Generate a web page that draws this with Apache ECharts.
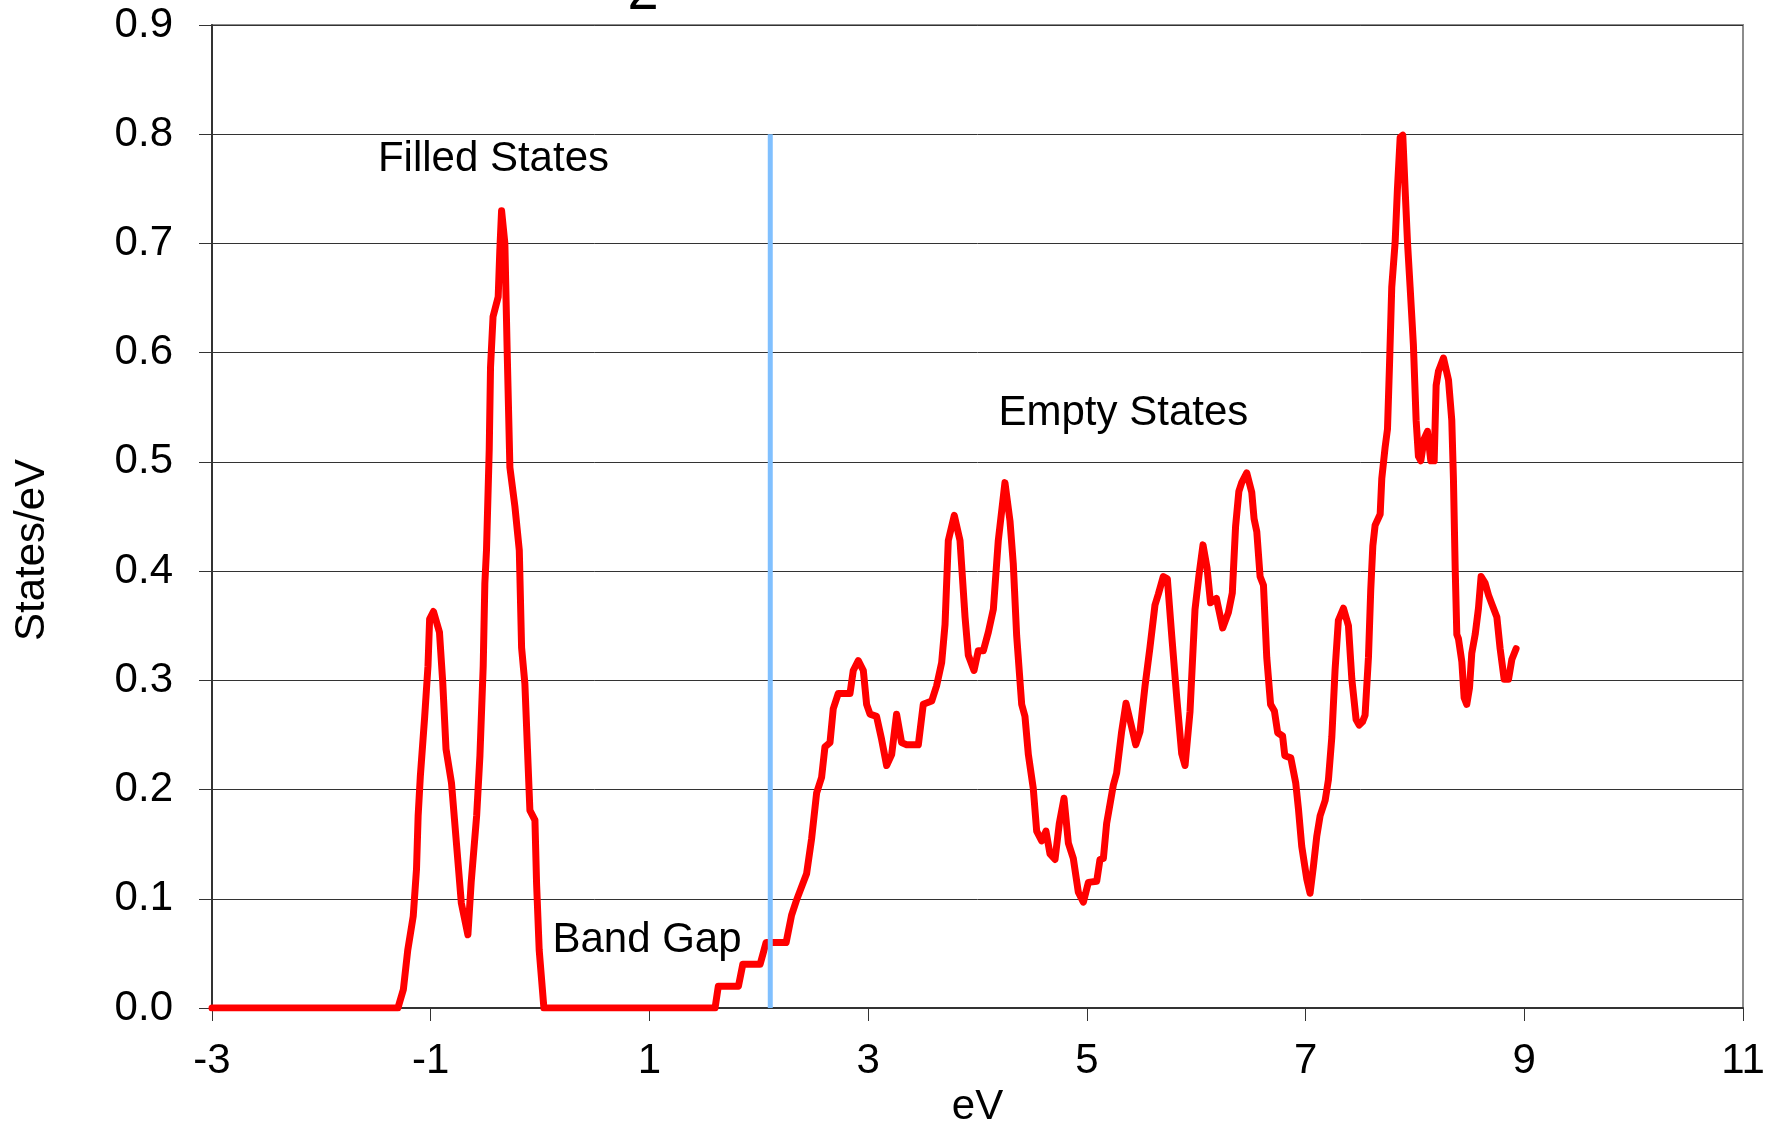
<!DOCTYPE html>
<html>
<head>
<meta charset="utf-8">
<script src="https://cdn.jsdelivr.net/npm/echarts@6/dist/echarts.min.js"></script>
<style>
  html, body { margin: 0; padding: 0; background: #ffffff; }
  #chart { width: 1779px; height: 1121px; }
</style>
</head>
<body>
<div id="chart"></div>
<script>
// Density of states: energy (eV) and states per eV
const energy = [
  -3.0, -1.30, -1.25, -1.21, -1.16, -1.13, -1.115, -1.095, -1.055, -1.025,
  -1.01, -0.975, -0.92, -0.89, -0.86, -0.81, -0.765, -0.72, -0.66, -0.63,
  -0.58, -0.55, -0.52, -0.505, -0.49, -0.465, -0.453, -0.43, -0.383, -0.368,
  -0.352, -0.322, -0.301, -0.276, -0.23, -0.19, -0.169, -0.139, -0.109, -0.093,
  -0.047, -0.032, -0.008, 0.035, 1.60, 1.63, 1.814, 1.854, 2.012, 2.067,
  2.25, 2.30, 2.346, 2.437, 2.483, 2.529, 2.574, 2.605, 2.651, 2.681,
  2.727, 2.834, 2.864, 2.910, 2.956, 2.986, 3.017, 3.077, 3.123, 3.169,
  3.215, 3.260, 3.306, 3.352, 3.459, 3.504, 3.581, 3.626, 3.672, 3.703,
  3.733, 3.788, 3.840, 3.886, 3.916, 3.968, 4.007, 4.053, 4.099, 4.145,
  4.190, 4.251, 4.297, 4.327, 4.358, 4.404, 4.434, 4.465, 4.510, 4.541,
  4.587, 4.626, 4.663, 4.709, 4.748, 4.791, 4.831, 4.876, 4.922, 4.968,
  5.014, 5.090, 5.120, 5.151, 5.181, 5.242, 5.272, 5.318, 5.358, 5.410,
  5.447, 5.486, 5.532, 5.577, 5.623, 5.654, 5.699, 5.736, 5.776, 5.822,
  5.867, 5.898, 5.943, 5.989, 6.025, 6.062, 6.099, 6.131, 6.185, 6.242,
  6.294, 6.33, 6.36, 6.39, 6.416, 6.462, 6.508, 6.529, 6.554, 6.584,
  6.615, 6.645, 6.68, 6.715, 6.745, 6.79, 6.81, 6.865, 6.91, 6.935,
  6.965, 7.011, 7.041, 7.072, 7.102, 7.133, 7.179, 7.209, 7.240, 7.27,
  7.300, 7.346, 7.392, 7.423, 7.462, 7.49, 7.52, 7.544, 7.575, 7.596,
  7.615, 7.636, 7.682, 7.697, 7.727, 7.749, 7.767, 7.788, 7.819, 7.840,
  7.865, 7.889, 7.910, 7.932, 7.956, 7.986, 8.011, 8.032, 8.054, 8.084,
  8.115, 8.145, 8.176, 8.194, 8.215, 8.261, 8.307, 8.337, 8.352, 8.368,
  8.383, 8.398, 8.429, 8.450, 8.474, 8.499, 8.520, 8.551, 8.581, 8.605,
  8.642, 8.673, 8.703, 8.749, 8.779, 8.816, 8.856, 8.886, 8.925
];
const dos = [
  0, 0, 0.017, 0.053, 0.084, 0.127, 0.176, 0.212, 0.267, 0.313,
  0.356, 0.363, 0.344, 0.298, 0.237, 0.206, 0.151, 0.096, 0.067, 0.115,
  0.176, 0.231, 0.313, 0.389, 0.419, 0.511, 0.587, 0.633, 0.651, 0.694,
  0.730, 0.700, 0.602, 0.495, 0.459, 0.419, 0.330, 0.297, 0.221, 0.181,
  0.172, 0.114, 0.053, 0, 0, 0.02, 0.02, 0.04, 0.04, 0.06,
  0.06, 0.085, 0.099, 0.123, 0.155, 0.197, 0.211, 0.239, 0.243, 0.274,
  0.288, 0.288, 0.309, 0.318, 0.309, 0.278, 0.269, 0.267, 0.246, 0.222,
  0.232, 0.269, 0.243, 0.241, 0.241, 0.278, 0.281, 0.295, 0.316, 0.351,
  0.428, 0.451, 0.428, 0.358, 0.323, 0.309, 0.327, 0.327, 0.344, 0.365,
  0.428, 0.481, 0.446, 0.407, 0.341, 0.278, 0.267, 0.232, 0.201, 0.162,
  0.153, 0.162, 0.141, 0.136, 0.169, 0.192, 0.151, 0.137, 0.106, 0.097,
  0.115, 0.116, 0.136, 0.137, 0.169, 0.204, 0.215, 0.253, 0.279, 0.257,
  0.241, 0.253, 0.295, 0.330, 0.369, 0.379, 0.395, 0.393, 0.341, 0.284,
  0.233, 0.222, 0.271, 0.365, 0.396, 0.424, 0.403, 0.371, 0.375, 0.348,
  0.362, 0.380, 0.441, 0.473, 0.481, 0.490, 0.472, 0.448, 0.436, 0.395,
  0.387, 0.321, 0.278, 0.272, 0.252, 0.249, 0.231, 0.229, 0.206, 0.182,
  0.148, 0.118, 0.105, 0.130, 0.157, 0.176, 0.190, 0.209, 0.248, 0.310,
  0.355, 0.366, 0.350, 0.301, 0.264, 0.259, 0.262, 0.268, 0.321, 0.383,
  0.423, 0.442, 0.452, 0.485, 0.513, 0.530, 0.587, 0.660, 0.701, 0.750,
  0.797, 0.799, 0.750, 0.701, 0.660, 0.607, 0.538, 0.505, 0.501, 0.521,
  0.528, 0.501, 0.501, 0.570, 0.583, 0.595, 0.575, 0.538, 0.485, 0.403,
  0.342, 0.338, 0.317, 0.284, 0.278, 0.293, 0.325, 0.342, 0.366, 0.395,
  0.389, 0.378, 0.370, 0.358, 0.329, 0.301, 0.301, 0.319, 0.329
];

// Vertical marker separating the gap from the conduction band
const markerEnergy = [2.105, 2.105];
const markerLevel = [0, 0.8];

// Axis ranges and ticks
const xTickStart = -3, xTickEnd = 11, xTickStep = 2;
const yTickStart = 0, yTickEnd = 0.9, yTickStep = 0.1;

// Text drawn on the plot
const regionLabels = ['Filled States', 'Empty States', 'Band Gap'];

const FONT = 'Arial, "Liberation Sans", Helvetica, sans-serif';
const TEXT_SIZE = 42;
const chart = echarts.init(document.getElementById('chart'), null, { renderer: 'canvas' });

const curve = energy.map((e, i) => [e, dos[i]]);
const marker = markerEnergy.map((e, i) => [e, markerLevel[i]]);

chart.setOption({
  animation: false,
  backgroundColor: '#ffffff',
  grid: {
    left: 212, right: 36, top: 25, bottom: 113,
    containLabel: false, outerBoundsMode: 'none',
    show: true, borderColor: '#8c8c8c', borderWidth: 2, backgroundColor: 'transparent'
  },
  xAxis: {
    type: 'value',
    min: xTickStart, max: xTickEnd, interval: xTickStep,
    name: 'eV', nameLocation: 'middle', nameGap: 70,
    nameTextStyle: { fontFamily: FONT, fontSize: TEXT_SIZE, color: '#000' },
    axisLine: { show: true, onZero: false, lineStyle: { color: '#333', width: 2 } },
    axisTick: { show: true, inside: false, length: 13, lineStyle: { color: '#333', width: 1 } },
    axisLabel: { fontFamily: FONT, fontSize: TEXT_SIZE, color: '#000', margin: 32 },
    splitLine: { show: false }
  },
  yAxis: {
    type: 'value',
    min: yTickStart, max: yTickEnd, interval: yTickStep,
    axisLine: { show: true, onZero: false, lineStyle: { color: '#333', width: 2 } },
    axisTick: { show: true, inside: false, length: 13, lineStyle: { color: '#333', width: 1 } },
    axisLabel: {
      fontFamily: FONT, fontSize: TEXT_SIZE, color: '#000', margin: 39,
      formatter: v => v.toFixed(1)
    },
    splitLine: { show: true, lineStyle: { color: '#333', width: 1 } }
  },
  series: [
    {
      name: 'DOS', type: 'line', data: curve, showSymbol: false, smooth: false,
      lineStyle: { color: '#ff0000', width: 7, cap: 'round', join: 'round' },
      z: 3
    },
    {
      name: 'Gap edge', type: 'line', data: marker, showSymbol: false,
      lineStyle: { color: '#80c0ff', width: 5 },
      z: 4
    }
  ]
});

// Region captions anchored in data coordinates (left edge, vertical centre)
const captionAnchors = [[-1.483, 0.777], [4.192, 0.5446], [0.113, 0.0623]];
const captions = regionLabels.map((t, i) => {
  const p = chart.convertToPixel({ gridIndex: 0 }, captionAnchors[i]);
  return {
    type: 'text', x: p[0], y: p[1], z: 10,
    style: { text: t, fontFamily: FONT, fontSize: TEXT_SIZE, fill: '#000', align: 'left', verticalAlign: 'middle' }
  };
});

chart.setOption({
  graphic: captions.concat([
    {
      type: 'text', x: 32, y: 550, rotation: Math.PI / 2, z: 10,
      style: { text: 'States/eV', fontFamily: FONT, fontSize: TEXT_SIZE, fill: '#000', align: 'center', verticalAlign: 'middle' }
    },
    {
      type: 'text', x: 643, y: 22, z: 10,
      style: { text: '2', fontFamily: FONT, fontSize: 56, fill: '#000', align: 'center', verticalAlign: 'bottom' }
    }
  ])
});
</script>
</body>
</html>
